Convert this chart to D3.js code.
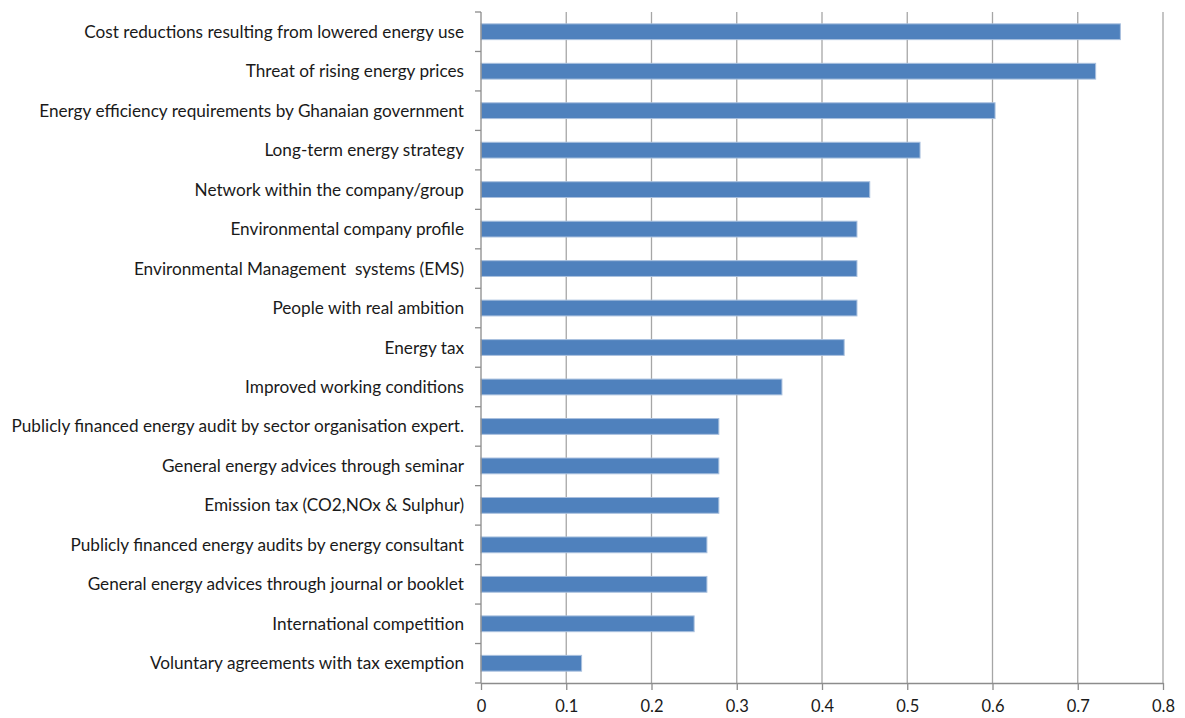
<!DOCTYPE html>
<html>
<head>
<meta charset="utf-8">
<script src="https://cdn.jsdelivr.net/npm/d3@7"></script>
<style>
    body { margin: 0; background: #fff; }
    text { font-family: Lato, "Open Sans", sans-serif; fill: #1a1a1a; }
</style>
</head>
<body>
<div id="chart"></div>
<script>
const [svgW, svgH] = [1185, 718];
const margin = {top: 12, right: 22, bottom: 35, left: 481};

// drivers for energy efficiency, share of respondents
const categories = [
    "Cost reductions resulting from lowered energy use",
    "Threat of rising energy prices",
    "Energy efficiency requirements by Ghanaian government",
    "Long-term energy strategy",
    "Network within the company/group",
    "Environmental company profile",
    "Environmental Management  systems (EMS)",
    "People with real ambition",
    "Energy tax",
    "Improved working conditions",
    "Publicly financed energy audit by sector organisation expert.",
    "General energy advices through seminar",
    "Emission tax (CO2,NOx & Sulphur)",
    "Publicly financed energy audits by energy consultant",
    "General energy advices through journal or booklet",
    "International competition",
    "Voluntary agreements with tax exemption"
];
const values = [0.75, 0.721, 0.603, 0.515, 0.456, 0.441, 0.441, 0.441, 0.426, 0.353,
    0.279, 0.279, 0.279, 0.265, 0.265, 0.25, 0.118];
const xTicks = [0, 0.1, 0.2, 0.3, 0.4, 0.5, 0.6, 0.7, 0.8];

const w = svgW - margin.left - margin.right;
const h = svgH - margin.top - margin.bottom;

const svg = d3.select("#chart").append("svg")
    .attr("width", svgW).attr("height", svgH);
const g = svg.append("g").attr("transform", `translate(${margin.left},${margin.top})`);

const x = d3.scaleLinear().domain([0, 0.8]).range([0, w]);
const y = d3.scaleBand().domain(categories).range([0, h]).paddingInner(0.6).paddingOuter(0.3);

// vertical grid lines
g.append("g").selectAll("line").data(xTicks.slice(1)).join("line")
    .attr("x1", d => x(d)).attr("x2", d => x(d))
    .attr("y1", 0).attr("y2", h)
    .attr("stroke", "#a6a6a6").attr("stroke-width", 1.3);

// bars
g.append("g").selectAll("rect").data(values).join("rect")
    .attr("x", 0)
    .attr("y", (d, i) => y(categories[i]))
    .attr("width", d => x(d))
    .attr("height", y.bandwidth())
    .attr("fill", "#4f81bd")
    .attr("stroke", "#a9c0de").attr("stroke-width", 1);

// x axis
const xAxis = g.append("g").attr("transform", `translate(0,${h})`)
    .call(d3.axisBottom(x).tickValues(xTicks).tickFormat(d3.format("")).tickSize(7).tickSizeOuter(0));
xAxis.select(".domain").attr("stroke", "#8c8c8c").attr("stroke-width", 1.3);
xAxis.selectAll(".tick line").attr("stroke", "#8c8c8c").attr("stroke-width", 1.3);
xAxis.selectAll(".tick text").attr("y", 17).attr("dy", "0.71em").style("font-size", "16.5px").attr("fill", "#1a1a1a");

// y axis: line with ticks at band boundaries
const step = y.step();
const bounds = d3.range(categories.length + 1).map(i => i * step);
g.append("line").attr("x1", 0).attr("x2", 0).attr("y1", 0).attr("y2", h)
    .attr("stroke", "#8c8c8c").attr("stroke-width", 1.3);
g.append("g").selectAll("line").data(bounds).join("line")
    .attr("x1", -6).attr("x2", 0)
    .attr("y1", d => d).attr("y2", d => d)
    .attr("stroke", "#8c8c8c").attr("stroke-width", 1.3);

// category labels
g.append("g").selectAll("text").data(categories).join("text")
    .attr("x", -17)
    .attr("y", d => y(d) + y.bandwidth() / 2)
    .attr("dy", "0.35em")
    .attr("text-anchor", "end")
    .style("font-size", "17.2px")
    .style("white-space", "pre")
    .text(d => d);
</script>
</body>
</html>
